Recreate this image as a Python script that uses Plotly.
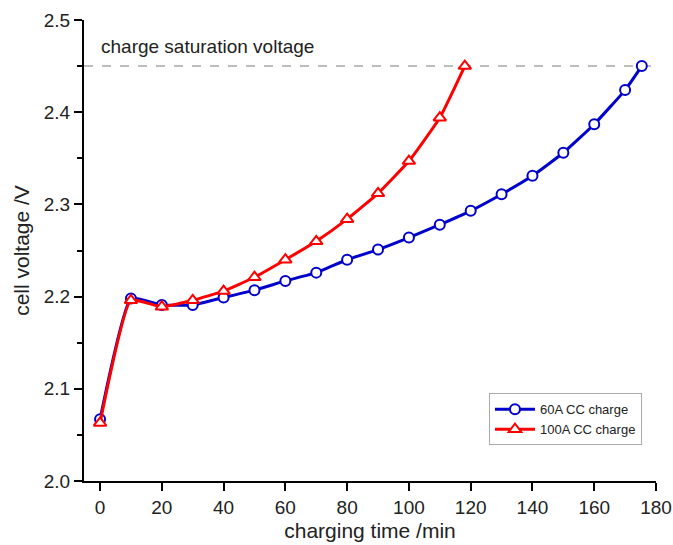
import plotly.graph_objects as go

# data
time_60 = [0, 10, 20, 30, 40, 50, 60, 70, 80, 90, 100, 110, 120, 130, 140, 150, 160, 170, 175.4]
volt_60 = [2.067, 2.198, 2.191, 2.191, 2.199, 2.207, 2.217, 2.226, 2.240, 2.251, 2.264, 2.278, 2.293,
           2.311, 2.331, 2.356, 2.387, 2.424, 2.450]
time_100 = [0, 10, 20, 30, 40, 50, 60, 70, 80, 90, 100, 110, 118.1]
volt_100 = [2.063, 2.196, 2.189, 2.196, 2.206, 2.221, 2.240, 2.260, 2.284, 2.312, 2.347, 2.394, 2.450]
saturation_voltage = 2.45
series_names = ["60A CC charge", "100A CC charge"]
x_ticks = [0, 20, 40, 60, 80, 100, 120, 140, 160, 180]
y_ticks = [2.0, 2.1, 2.2, 2.3, 2.4, 2.5]

FONT = "Liberation Sans, Arial, sans-serif"
BLUE = "#0000CC"
RED = "#FF0000"

fig = go.Figure()
fig.add_trace(go.Scatter(
    x=[-5.2, 180], y=[saturation_voltage, saturation_voltage], mode="lines",
    line=dict(color="#BDBDBD", width=2, dash="dash"), showlegend=False, hoverinfo="skip"))
fig.add_trace(go.Scatter(
    x=time_60, y=volt_60, mode="lines+markers", name=series_names[0],
    line=dict(color=BLUE, width=3, shape="spline", smoothing=0.4),
    marker=dict(symbol="circle", size=10, color="white", line=dict(color=BLUE, width=2))))
fig.add_trace(go.Scatter(
    x=time_100, y=volt_100, mode="lines+markers", name=series_names[1],
    line=dict(color=RED, width=3, shape="spline", smoothing=0.4),
    marker=dict(symbol="triangle-up", size=11, color="white", line=dict(color=RED, width=2))))

fig.add_annotation(x=-0.5, y=2.471, xref="x", yref="y", text="charge saturation voltage",
                   showarrow=False, xanchor="left", yanchor="middle",
                   font=dict(family=FONT, size=19, color="#222"))

fig.update_layout(
    width=673, height=545,
    margin=dict(l=84, r=17, t=20, b=64),
    paper_bgcolor="white", plot_bgcolor="white",
    font=dict(family=FONT, size=19, color="#222"),
    legend=dict(x=0.708, y=0.19, xanchor="left", yanchor="top",
                bordercolor="#AAAAAA", borderwidth=1, bgcolor="white",
                font=dict(family=FONT, size=13, color="#222"),
                tracegroupgap=0, itemwidth=40),
)
fig.update_xaxes(
    range=[-5.2, 180], tickvals=x_ticks, showgrid=False, zeroline=False, automargin=False,
    showline=True, linecolor="black", linewidth=2,
    ticks="outside", ticklen=8, tickwidth=2, tickcolor="black",
    tickfont=dict(size=19),
    title=dict(text="charging time /min", font=dict(size=21), standoff=7))
fig.update_yaxes(
    range=[2.0, 2.5], tickvals=y_ticks, tickformat=".1f", showgrid=False, zeroline=False,
    automargin=False,
    showline=True, linecolor="black", linewidth=2,
    ticks="outside", ticklen=8, tickwidth=2, tickcolor="black",
    tickfont=dict(size=19),
    minor=dict(dtick=0.05, ticks="outside", ticklen=5, tickwidth=2, tickcolor="black"),
    title=dict(text="cell voltage /V", font=dict(size=21), standoff=8))

fig.write_html("out.html")
